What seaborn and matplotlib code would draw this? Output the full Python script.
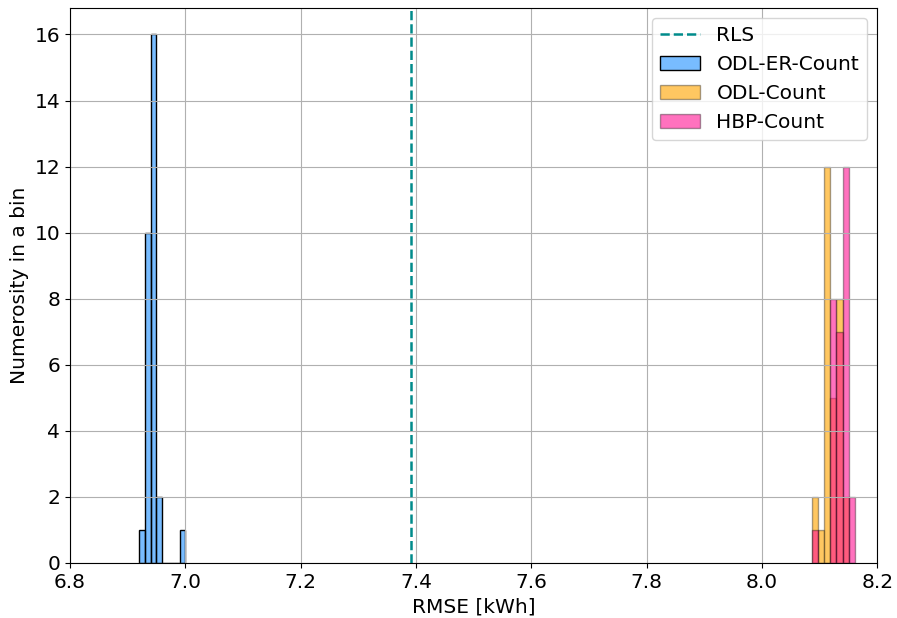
import matplotlib
matplotlib.use("Agg")
import matplotlib.pyplot as plt
import seaborn as sns
from matplotlib.colors import to_rgba

# -----------------------------
#  Data
# -----------------------------
RLS_RMSE = 7.392

# ODL-ER-Count: 8 bins of 0.01 between 6.92 and 7.00
er_centers = [6.925, 6.935, 6.945, 6.955, 6.965, 6.975, 6.985, 6.995]
er_counts = [1, 10, 16, 2, 0, 0, 0, 1]

# ODL-Count / HBP-Count share 7 bins between 8.087 and 8.161
odl_hbp_range = (8.087, 8.161)
odl_hbp_centers = [8.0923, 8.1029, 8.1134, 8.1240, 8.1346, 8.1451, 8.1557]
odl_counts = [2, 1, 12, 5, 8, 2, 0]
hbp_counts = [1, 0, 0, 8, 7, 12, 2]

X_TICKS = [6.8, 7.0, 7.2, 7.4, 7.6, 7.8, 8.0, 8.2]
Y_TICKS = [0, 2, 4, 6, 8, 10, 12, 14, 16]

FS = 14.5

# -----------------------------
#  Plot
# -----------------------------
plt.rcParams["font.family"] = ["DejaVu Sans"]
fig, ax = plt.subplots(figsize=(8.97, 6.18), dpi=100)
fig.subplots_adjust(left=0.078, right=0.978, top=0.987, bottom=0.089)

ax.grid(True, color="#b0b0b0", linewidth=0.8)
ax.axvline(RLS_RMSE, color="darkcyan", linestyle="--", linewidth=1.8, label="RLS")

sns.histplot(x=er_centers, weights=er_counts, bins=8, binrange=(6.92, 7.00),
             color="dodgerblue", alpha=0.6, edgecolor="black", linewidth=1,
             label="ODL-ER-Count", ax=ax)
sns.histplot(x=odl_hbp_centers, weights=odl_counts, bins=7, binrange=odl_hbp_range,
             color="orange", alpha=0.62, edgecolor=to_rgba("black", 0.35), linewidth=1,
             label="ODL-Count", ax=ax)
sns.histplot(x=odl_hbp_centers, weights=hbp_counts, bins=7, binrange=odl_hbp_range,
             color="deeppink", alpha=0.6, edgecolor=to_rgba("black", 0.35), linewidth=1,
             label="HBP-Count", ax=ax)

ax.set_xlim(6.8, 8.2)
ax.set_ylim(0, 16.8)
ax.set_xticks(X_TICKS)
ax.set_yticks(Y_TICKS)
ax.tick_params(labelsize=FS)
ax.set_xlabel("RMSE [kWh]", fontsize=FS)
ax.set_ylabel("Numerosity in a bin", fontsize=FS)
ax.legend(loc="upper right", fontsize=FS)

fig.savefig("out.png", dpi=100)
